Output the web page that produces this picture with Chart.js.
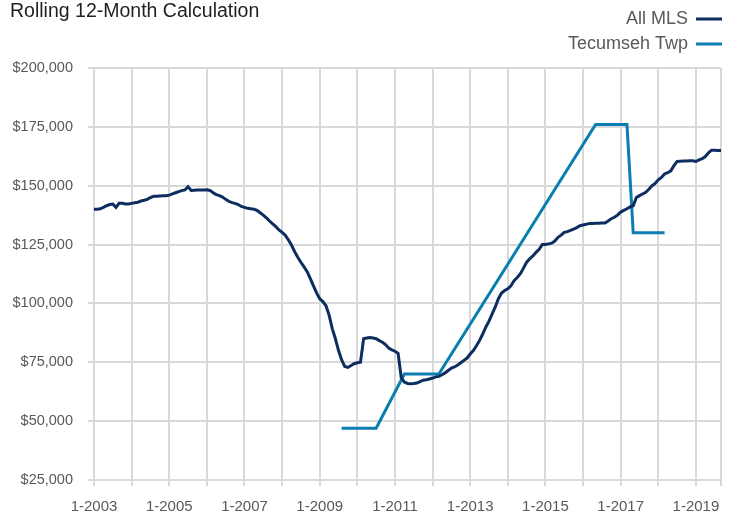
<!DOCTYPE html>
<html>
<head>
<meta charset="utf-8">
<script src="https://cdn.jsdelivr.net/npm/chart.js@4.4.1/dist/chart.umd.min.js"></script>
<style>
  html, body { margin: 0; padding: 0; background: #fff; }
  #wrap { width: 733px; height: 515px; }
</style>
</head>
<body>
<div id="wrap"><canvas id="priceChart" width="733" height="515"></canvas></div>
<script>
// monthly labels 1-2003 ... 9-2019
const months = [];
for (let y = 2003; y <= 2019; y++) {
    for (let m = 1; m <= 12; m++) {
        if (y === 2019 && m > 9) break;
        months.push(m + '-' + y);
    }
}

// All MLS, one value per month
const allMls = [
    140000, 140000, 140200, 140800, 141500, 142000, 142200, 140800, 142500, 142500, 142200, 142200, // 2003
    142500, 142800, 143000, 143500, 143800, 144200, 145000, 145500, 145500, 145600, 145700, 145700, // 2004
    146000, 146500, 147000, 147500, 147900, 148200, 149600, 148000, 148100, 148200, 148200, 148200, // 2005
    148300, 148000, 147000, 146200, 145800, 145200, 144200, 143400, 142800, 142500, 142000, 141200, // 2006
    140800, 140400, 140200, 140000, 139500, 138500, 137500, 136300, 135000, 133800, 132600, 131200, // 2007
    130200, 129000, 127000, 124800, 122000, 119600, 117500, 115500, 113500, 110500, 107500, 104500, // 2008
    102000, 100800, 99000, 95000, 89300, 85000, 80000, 76000, 73200, 72800, 73600, 74400,           // 2009
    74800, 75000, 85000, 85300, 85500, 85300, 85000, 84200, 83500, 82500, 81000, 80300,             // 2010
    79700, 78800, 68500, 66600, 66000, 65900, 66000, 66200, 66800, 67400, 67600, 67900,             // 2011
    68300, 68800, 69000, 69700, 70500, 71500, 72500, 73000, 73800, 74800, 75800, 76800,             // 2012
    78500, 80000, 82000, 84300, 87000, 90000, 92500, 95600, 98500, 102000, 104400, 105500,          // 2013
    106200, 107500, 109700, 111000, 112600, 115000, 117500, 119000, 120200, 121700, 123000, 125000, // 2014
    125000, 125300, 125600, 126500, 128100, 129000, 130200, 130500, 131000, 131600, 132200, 133000, // 2015
    133300, 133600, 134000, 134000, 134100, 134100, 134200, 134200, 135000, 136000, 136600, 137500, // 2016
    138800, 139500, 140200, 141000, 141500, 145000, 145800, 146500, 147200, 148500, 150000, 151000, // 2017
    152500, 153500, 155000, 155500, 156300, 158500, 160300, 160400, 160500, 160500, 160600, 160600, // 2018
    160300, 161000, 161500, 162400, 164000, 165100, 165100, 165000, 165000                          // 2019
];

// Tecumseh Twp: only the months where the line turns, gaps are spanned
const tecumsehMonths = ['8-2009', '7-2010', '4-2011', '3-2012', '5-2016', '3-2017', '5-2017', '3-2018'];
const tecumsehValues = [47000, 47000, 70000, 70000, 176000, 176000, 130000, 130000];

const tecumseh = months.map(function (lbl) {
    const i = tecumsehMonths.indexOf(lbl);
    return i >= 0 ? tecumsehValues[i] : null;
});

const yTicks = [25000, 50000, 75000, 100000, 125000, 150000, 175000, 200000];

const FONT = '"Liberation Sans", Arial, sans-serif';
const GRID = '#d9d9d9';
const lastIdx = months.length - 1;

// title and right-aligned legend drawn at the top
const headerPlugin = {
    id: 'header',
    afterDraw(chart) {
        const c = chart.ctx;
        c.save();
        c.textBaseline = 'middle';
        c.fillStyle = '#1f1f1f';
        c.font = '19.5px ' + FONT;
        c.textAlign = 'left';
        c.fillText('Rolling 12-Month Calculation', 10, 12);

        const rows = [19, 44];
        chart.data.datasets.forEach(function (ds, i) {
            c.font = '18px ' + FONT;
            c.fillStyle = '#595959';
            c.textAlign = 'right';
            c.fillText(ds.label, 688, rows[i]);
            c.strokeStyle = ds.borderColor;
            c.lineWidth = 3;
            c.beginPath();
            c.moveTo(696, rows[i]);
            c.lineTo(722, rows[i]);
            c.stroke();
        });
        c.restore();
    }
};

const ctx = document.getElementById('priceChart').getContext('2d');

const priceChart = new Chart(ctx, {
    type: 'line',
    data: {
        labels: months,
        datasets: [{
            label: 'All MLS',
            data: allMls,
            borderColor: '#0c2d5e',
            borderWidth: 3,
            pointRadius: 0,
            tension: 0,
        }, {
            label: 'Tecumseh Twp',
            data: tecumseh,
            borderColor: '#0a7db1',
            borderWidth: 3,
            pointRadius: 0,
            tension: 0,
            spanGaps: true,
        }],
    },
    options: {
        responsive: false,
        animation: false,
        layout: {
            padding: { top: 68, right: 11, left: 0, bottom: 0 },
        },
        plugins: {
            legend: { display: false },
            title: { display: false },
            tooltip: { enabled: false },
        },
        scales: {
            x: {
                type: 'category',
                offset: false,
                grid: {
                    color: function (c) {
                        return (c.index % 12 === 0 || c.index === lastIdx) ? GRID : 'transparent';
                    },
                    lineWidth: 2,
                    tickLength: 6,
                },
                border: { display: false },
                ticks: {
                    autoSkip: false,
                    maxRotation: 0,
                    minRotation: 0,
                    padding: 12,
                    color: '#595959',
                    font: { family: FONT, size: 15 },
                    callback: function (val, i) {
                        return i % 24 === 0 ? this.getLabelForValue(val) : '';
                    },
                },
                afterFit: function (scale) { scale.height = 35; },
            },
            y: {
                min: yTicks[0],
                max: yTicks[yTicks.length - 1],
                grid: {
                    color: GRID,
                    lineWidth: 2,
                    tickLength: 6,
                },
                border: { display: false },
                ticks: {
                    stepSize: 25000,
                    padding: 15,
                    color: '#595959',
                    font: { family: FONT, size: 14.5 },
                    callback: function (v) { return '$' + v.toLocaleString('en-US'); },
                },
                afterFit: function (scale) { scale.width = 94; },
            },
        },
    },
    plugins: [headerPlugin],
});
</script>
</body>
</html>
